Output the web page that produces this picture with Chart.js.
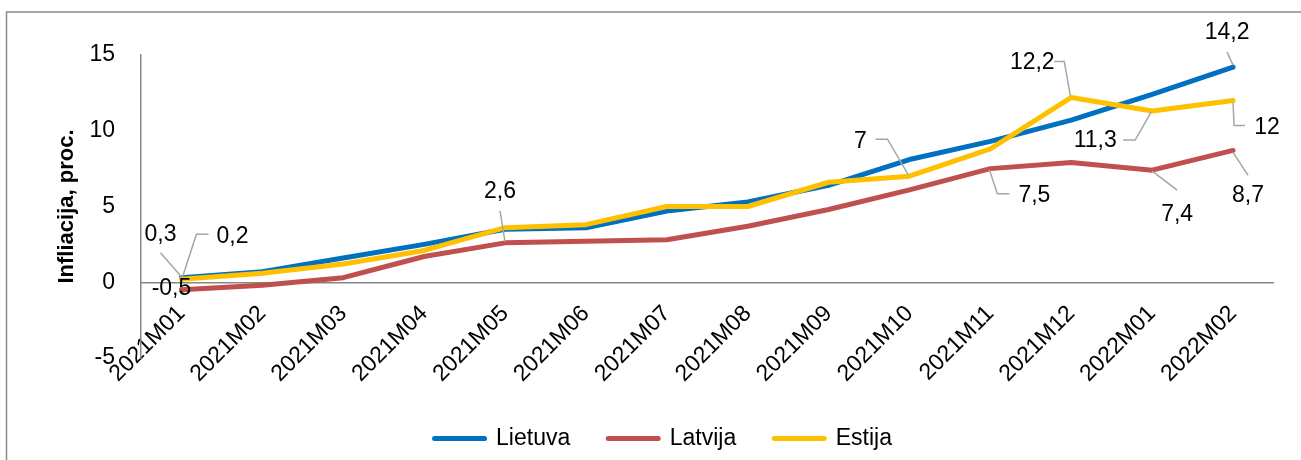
<!DOCTYPE html>
<html>
<head>
<meta charset="utf-8">
<script src="https://cdn.jsdelivr.net/npm/chart.js@4.4.0/dist/chart.umd.min.js"></script>
<style>
  html, body { margin: 0; padding: 0; background: #fff; }
  canvas { display: block; }
</style>
</head>
<body>
<canvas id="c" width="1301" height="460"></canvas>
<script>
// ── data ──
var months = ['2021M01','2021M02','2021M03','2021M04','2021M05','2021M06','2021M07',
              '2021M08','2021M09','2021M10','2021M11','2021M12','2022M01','2022M02'];
var lietuva = [0.3, 0.7, 1.6, 2.5, 3.5, 3.6, 4.7, 5.3, 6.4, 8.1, 9.3, 10.7, 12.4, 14.2];
var latvija = [-0.5, -0.2, 0.3, 1.7, 2.6, 2.7, 2.8, 3.7, 4.8, 6.1, 7.5, 7.9, 7.4, 8.7];
var estija  = [0.2, 0.6, 1.2, 2.1, 3.6, 3.8, 5.0, 5.0, 6.6, 7.0, 8.8, 12.2, 11.3, 12.0];
var seriesNames = ['Lietuva', 'Latvija', 'Estija'];
var yMin = -5, yMax = 15, yStep = 5;

// value labels: series, point index, text offset from the point, leader line points (offsets)
var labelSpots = [
  {s:0, i:0,  dx:-21, dy:-43, lead:[[-21,-25],[0,-1]]},
  {s:2, i:0,  dx:51,  dy:-43, lead:[[27,-45],[15,-45],[1,-2]]},
  {s:1, i:0,  dx:-10, dy:-1,  lead:null},
  {s:1, i:4,  dx:-5,  dy:-51, lead:[[-5,-32],[0,-1]]},
  {s:2, i:9,  dx:-49, dy:-35, lead:[[-34,-37],[-22,-37],[-1,-1]]},
  {s:1, i:10, dx:44,  dy:27,  lead:[[-1,1],[7,25],[19,25]]},
  {s:2, i:11, dx:-39, dy:-35, lead:[[-17,-36],[-7,-36],[-1,-2]]},
  {s:0, i:13, dx:-6,  dy:-34, lead:[[-6,-15],[0,-2]]},
  {s:2, i:12, dx:-57, dy:30,  lead:[[-29,29],[-17,29],[-1,1]]},
  {s:2, i:13, dx:34,  dy:27,  lead:[[0,2],[1,25],[12,25]]},
  {s:1, i:13, dx:15,  dy:45,  lead:[[0,2],[15,25]]},
  {s:1, i:12, dx:25,  dy:45,  lead:[[0,1],[25,20]]}
];

var FONT = '"Liberation Sans", Arial, sans-serif';
var colors = ['#0070C0', '#C0504D', '#FFC000'];

function fmt(v){ return String(v).replace('.', ','); }

// outer frame of the chart object
var framePlugin = {
  id: 'frame',
  beforeDraw: function(chart){
    var ctx = chart.ctx;
    ctx.save();
    ctx.strokeStyle = '#8a8a8a';
    ctx.lineWidth = 1.5;
    ctx.strokeRect(6.5, 12, 1400, 600);
    ctx.restore();
  }
};

// data labels with leader lines
var valuePlugin = {
  id: 'vals',
  afterDatasetsDraw: function(chart){
    var ctx = chart.ctx;
    ctx.save();
    labelSpots.forEach(function(l){
      var pt = chart.getDatasetMeta(l.s).data[l.i];
      var v = chart.data.datasets[l.s].data[l.i];
      if(l.lead){
        ctx.beginPath();
        ctx.strokeStyle = '#a6a6a6';
        ctx.lineWidth = 1.5;
        l.lead.forEach(function(p, k){
          if(k === 0) ctx.moveTo(pt.x + p[0], pt.y + p[1]); else ctx.lineTo(pt.x + p[0], pt.y + p[1]);
        });
        ctx.stroke();
      }
      ctx.fillStyle = '#000';
      ctx.font = '23px ' + FONT;
      ctx.textAlign = 'center';
      ctx.textBaseline = 'middle';
      ctx.fillText(fmt(v), pt.x + l.dx, pt.y + l.dy);
    });
    ctx.restore();
  }
};

var values = [lietuva, latvija, estija];
var datasets = seriesNames.map(function(n, k){
  return {
    label: n, data: values[k],
    borderColor: colors[k], backgroundColor: colors[k],
    borderWidth: 5, pointRadius: 0, tension: 0,
    borderJoinStyle: 'round', borderCapStyle: 'round',
    order: 2 - k
  };
});

new Chart(document.getElementById('c'), {
  type: 'line',
  data: { labels: months, datasets: datasets },
  plugins: [framePlugin, valuePlugin],
  options: {
    responsive: false,
    animation: false,
    devicePixelRatio: 1,
    layout: { padding: { left: 53, right: 27.5, top: 55, bottom: 0 } },
    plugins: {
      tooltip: { enabled: false },
      title: { display: true, text: '', position: 'bottom', weight: 500, font: { size: 10 }, padding: { top: 19, bottom: 0 } },
      legend: {
        position: 'bottom',
        labels: {
          usePointStyle: true, pointStyleWidth: 50, padding: 38,
          color: '#000', font: { family: FONT, size: 23 },
          generateLabels: function(c){
            return c.data.datasets.map(function(d, i){
              return { text: d.label, fillStyle: d.borderColor, strokeStyle: d.borderColor,
                       lineWidth: 5, lineCap: 'round', pointStyle: 'line', hidden: false,
                       datasetIndex: i, fontColor: '#000' };
            });
          }
        }
      }
    },
    scales: {
      x: {
        type: 'category',
        position: { y: 0 },
        offset: true,
        grid: { display: false, drawTicks: false },
        border: { display: true, color: '#868686', width: 1.5 },
        ticks: { color: '#000', font: { family: FONT, size: 23 }, minRotation: 45, maxRotation: 45, autoSkip: false, padding: 18 }
      },
      y: {
        min: yMin, max: yMax,
        grid: { display: false, drawTicks: false },
        border: { display: true, color: '#868686', width: 1.5 },
        ticks: { stepSize: yStep, color: '#000', font: { family: FONT, size: 23 }, padding: 26,
                 callback: function(v){ return fmt(v); } },
        title: { display: true, text: 'Infliacija, proc.', color: '#000',
                 font: { family: FONT, size: 22, weight: 'bold' }, padding: { top: 1, bottom: 0 } },
        afterFit: function(s){ s.width = 88; }
      }
    }
  }
});
</script>
</body>
</html>
